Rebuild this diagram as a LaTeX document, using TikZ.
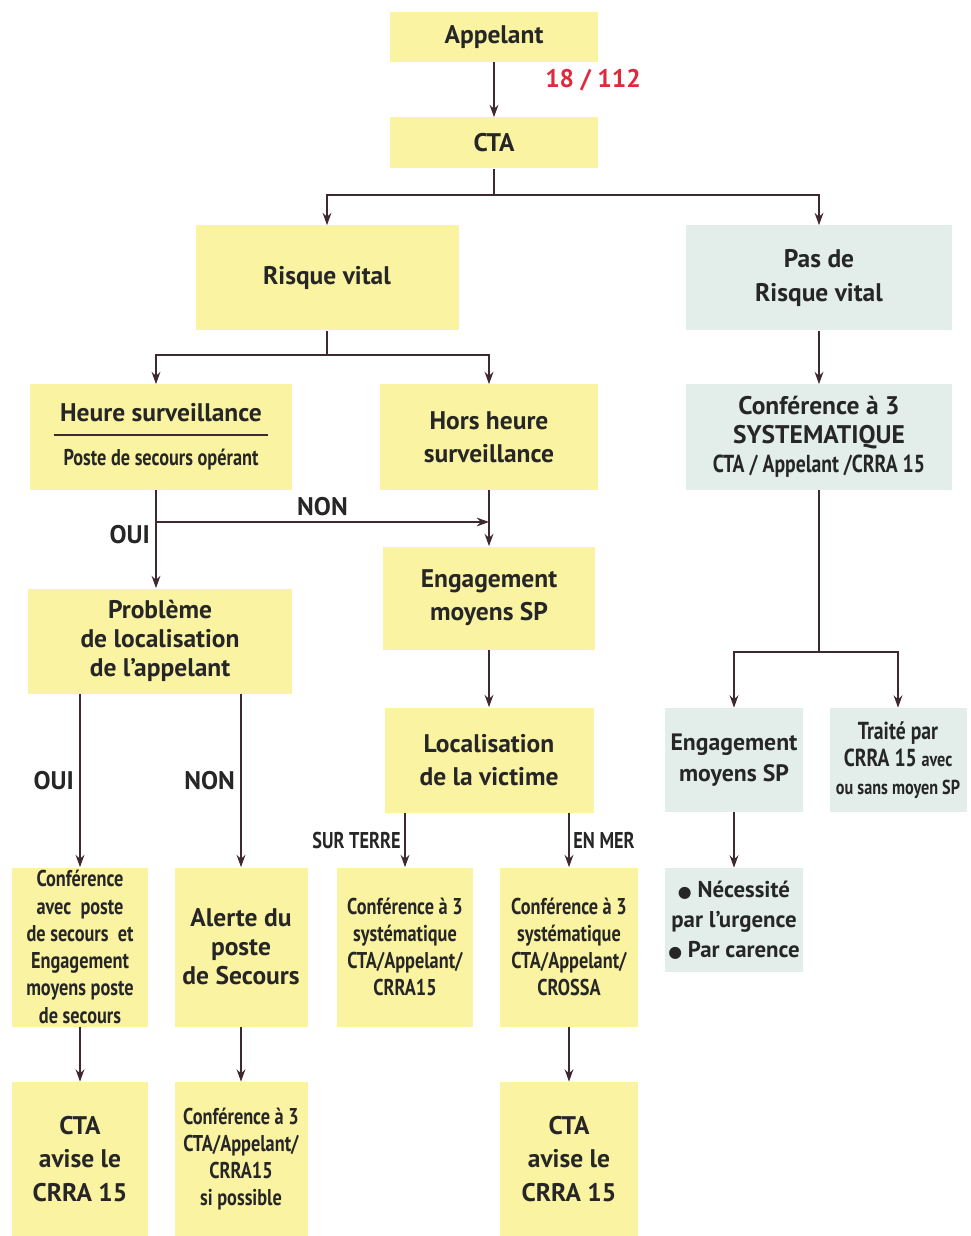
\documentclass[tikz,border=0pt]{standalone}
\usepackage{fontspec}
\setmainfont{PT Sans}
\newfontfamily\cond[FakeStretch=0.8]{PT Sans}
\newfontfamily\sym{DejaVu Sans}
\usetikzlibrary{arrows.meta}
\usepackage{xcolor}
\definecolor{boxyellow}{HTML}{FAF3A2}
\definecolor{boxblue}{HTML}{E3EEEA}
\definecolor{linebrown}{HTML}{3E2A2E}
\definecolor{numred}{HTML}{DD2A3C}
\newcommand\bigtxt{\fontsize{14.5}{18}\selectfont\bfseries}
\newcommand\smalltxt{\cond\fontsize{13}{15.5}\selectfont\bfseries}
\tikzset{
    ybox/.style={fill=boxyellow, align=center, inner sep=0pt, text=black!85, font=\bigtxt},
    bbox/.style={fill=boxblue, align=center, inner sep=0pt, text=black!85, font=\bigtxt},
    sz/.style 2 args={minimum width=#1*0.02cm, minimum height=#2*0.02cm},
    arr/.style={draw=linebrown, line width=1pt, -{Stealth[length=7pt,width=5pt]}},
    ln/.style={draw=linebrown, line width=1pt},
    lbl/.style={font=\bigtxt, text=black!85, inner sep=3pt}
}
\begin{document}
\begin{tikzpicture}[x=0.02cm, y=-0.02cm]
        \useasboundingbox (0,0) rectangle (970,1236);
        \node [ybox, sz={208}{50}] (app) at (494,37) {Appelant};
        \node [ybox, sz={208}{51}] (cta) at (494,143) {CTA};
        \node [font=\bigtxt, text=numred] (num) at (593,80) {18 / 112};
        \node [ybox, sz={263}{105}] (rv) at (327,278) {Risque vital};
        \node [bbox, sz={266}{105}, font=\fontsize{14.5}{19}\selectfont\bfseries] (prv) at (819,278) {Pas de\\Risque vital};
        \node [ybox, sz={262}{105}] (heure) at (161,437) {Heure surveillance\\[-10pt]\textcolor{linebrown}{\rule{4.3cm}{1.2pt}}\\[-1pt]{\smalltxt Poste de secours op\'erant}};
        \node [ybox, sz={218}{105}, font=\fontsize{14.5}{19}\selectfont\bfseries] (hors) at (489,437) {Hors heure\\surveillance};
        \node [bbox, sz={266}{105}, font=\fontsize{14.5}{16.5}\selectfont\bfseries] (conf3s) at (819,437) {Conf\'erence \`a 3\\SYSTEMATIQUE\\{\cond\fontsize{14}{16.5}\selectfont CTA / Appelant /CRRA 15}};
        \node [ybox, sz={212}{103}, font=\fontsize{14.5}{19}\selectfont\bfseries] (eng) at (489,598) {Engagement\\moyens SP};
        \node [ybox, sz={264}{105}, font=\fontsize{14.5}{16.5}\selectfont\bfseries] (prob) at (160,641) {Probl\`eme\\de localisation\\de l'appelant};
        \node [ybox, sz={209}{105}, font=\fontsize{14.5}{19}\selectfont\bfseries] (loc) at (489,760) {Localisation\\de la victime};
        \node [bbox, sz={138}{104}, font=\fontsize{13.5}{18}\selectfont\bfseries] (engb) at (734,760) {Engagement\\moyens SP};
        \node [bbox, sz={137}{104}, font=\smalltxt] (traite) at (898,760) {{\fontsize{14}{16}\selectfont Trait\'e par}\\{\fontsize{14}{16}\selectfont CRRA 15} {\fontsize{11.5}{14}\selectfont avec}\\{\fontsize{11.5}{14}\selectfont ou sans moyen SP}};
        \node [bbox, sz={138}{104}, font=\fontsize{13}{17}\selectfont\bfseries] (bul) at (734,920) {{\sym\fontsize{9}{10}\selectfont ●} N\'ecessit\'e\\par l'urgence\\{\sym\fontsize{9}{10}\selectfont ●} Par carence};
        \node [ybox, sz={136}{159}, font=\smalltxt] (confposte) at (80,947) {Conf\'erence\\avec\ \ poste\\de secours\ \ et\\Engagement\\moyens poste\\de secours};
        \node [ybox, sz={133}{159}, font=\fontsize{14.5}{16.5}\selectfont\bfseries] (alerte) at (241,947) {Alerte du\\poste\\de Secours};
        \node [ybox, sz={136}{159}, font=\smalltxt] (confterre) at (405,947) {Conf\'erence \`a 3\\syst\'ematique\\CTA/Appelant/\\CRRA15};
        \node [ybox, sz={138}{159}, font=\smalltxt] (confmer) at (569,947) {Conf\'erence \`a 3\\syst\'ematique\\CTA/Appelant/\\CROSSA};
        \node [ybox, sz={136}{154}, font=\fontsize{14.5}{19}\selectfont\bfseries] (avise1) at (80,1159) {CTA\\avise le\\CRRA 15};
        \node [ybox, sz={133}{154}, font=\smalltxt] (confposs) at (241,1159) {Conf\'erence \`a 3\\CTA/Appelant/\\CRRA15\\si possible};
        \node [ybox, sz={138}{154}, font=\fontsize{14.5}{19}\selectfont\bfseries] (avise2) at (569,1159) {CTA\\avise le\\CRRA 15};

        \coordinate (s1) at (494,195);
        \coordinate (s2) at (327,355);
        \coordinate (j1) at (156,522);
        \coordinate (j2) at (489,522);
        \coordinate (s4) at (819,652);

        \draw [arr] (app) -- (cta);
        \draw [ln] (cta) -- (s1);
        \draw [arr] (s1) -| (rv);
        \draw [arr] (s1) -| (prv);
        \draw [ln] (rv) -- (s2);
        \draw [arr] (s2) -| (heure.north -| j1);
        \draw [arr] (s2) -| (hors);
        \draw [arr] (heure.south -| j1) -- node [lbl, left, pos=0.45] {OUI} (prob.north -| j1);
        \draw [arr] (j1) -- node [lbl, above] {NON} (j2);
        \draw [arr] (hors) -- (eng);
        \draw [arr] (eng) -- (loc);
        \draw [arr] (prob.south -| confposte) -- node [lbl, left] {OUI} (confposte);
        \draw [arr] (prob.south -| alerte) -- node [lbl, left] {NON} (alerte);
        \draw [arr] (loc.south -| confterre) -- node [lbl, left, font=\smalltxt, inner sep=2pt] {SUR TERRE} (confterre);
        \draw [arr] (loc.south -| confmer) -- node [lbl, right, font=\smalltxt, inner sep=2pt] {EN MER} (confmer);
        \draw [arr] (confposte) -- (avise1);
        \draw [arr] (alerte) -- (confposs);
        \draw [arr] (confmer) -- (avise2);
        \draw [arr] (prv) -- (conf3s);
        \draw [ln] (conf3s) -- (s4);
        \draw [arr] (s4) -| (engb);
        \draw [arr] (s4) -| (traite);
        \draw [arr] (engb) -- (bul);
    \end{tikzpicture}
\end{document}
